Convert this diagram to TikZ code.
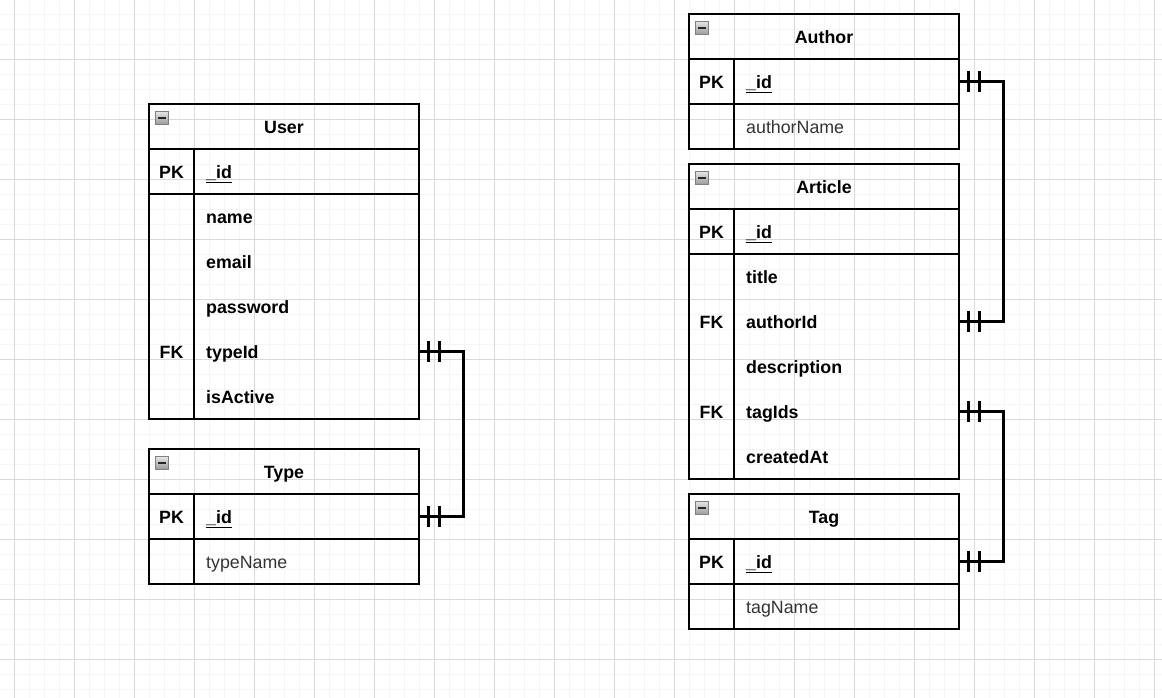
\documentclass[tikz,border=0pt]{standalone}
\usepackage{fontspec}
\setmainfont{Liberation Sans}
\newcommand\erfs{\fontsize{17.8}{20}\selectfont}

% table outline: #1,#2 = top-left corner, #3 = number of body rows
\newcommand\erframe[3]{%
  \draw[frame] (#1,#2) rectangle ++(270,{90+45*#3});
  \draw[frame] (#1,#2+45) -- ++(270,0);
  \draw[frame] (#1,#2+90) -- ++(270,0);
  \draw[frame] (#1+45,#2+45) -- (#1+45,{#2+90+45*#3});
  \draw[icon] (#1+6.5,#2+7.5) rectangle ++(13,13);
  \draw[line width=1.8pt,black!85] (#1+9,#2+14) -- ++(8,0);
}

\tikzset{
  frame/.style={draw=black, line width=1.3pt},
  icon/.style={draw=black!50, line width=0.8pt, top color=black!10, bottom color=black!40},
  txtbox/.style={text height=18pt, text depth=4pt},
  hdr/.style={font=\erfs\bfseries, inner sep=0pt, anchor=center, txtbox},
  keytxt/.style={font=\erfs\bfseries, inner sep=0pt, anchor=center, txtbox},
  field/.style={font=\erfs\bfseries, anchor=west, inner xsep=12pt, inner ysep=0pt,
    text width=201pt, minimum height=45pt, align=left, txtbox},
  plainfield/.style={field, font=\erfs, text=black!80},
  rel/.style={draw=black, line width=2.6pt},
  tick/.style={draw=black, line width=2.4pt},
  minorgrid/.style={draw=black!4, line width=0.9pt},
  majorgrid/.style={draw=black!15, line width=0.9pt},
}

\begin{document}
\begin{tikzpicture}[x=1pt,y=-1pt]
\useasboundingbox (0,0) rectangle (1162,698);

% background grid
\foreach \gx in {14,29,...,1162} \draw[minorgrid] (\gx,0) -- (\gx,698);
\foreach \gy in {14,29,...,698} \draw[minorgrid] (0,\gy) -- (1162,\gy);
\foreach \gx in {14,74,...,1162} \draw[majorgrid] (\gx,0) -- (\gx,698);
\foreach \gy in {59,119,...,698} \draw[majorgrid] (0,\gy) -- (1162,\gy);

% ---------- User ----------
\erframe{149}{104}{5}
\node[hdr] (user) at (284,126.5) {User};
\node[keytxt] (user-pk) at (171.5,171.5) {PK};
\node[field] (user-id) at (194,171.5) {\underline{\_id}};
\node[field] (user-name) at (194,216.5) {name};
\node[field] (user-email) at (194,261.5) {email};
\node[field] (user-password) at (194,306.5) {password};
\node[keytxt] (user-fk) at (171.5,351.5) {FK};
\node[field] (user-typeid) at (194,351.5) {typeId};
\node[field] (user-isactive) at (194,396.5) {isActive};

% ---------- Type ----------
\erframe{149}{449}{1}
\node[hdr] (type) at (284,471.5) {Type};
\node[keytxt] (type-pk) at (171.5,516.5) {PK};
\node[field] (type-id) at (194,516.5) {\underline{\_id}};
\node[plainfield] (type-name) at (194,561.5) {typeName};

% ---------- Author ----------
\erframe{689}{14}{1}
\node[hdr] (author) at (824,36.5) {Author};
\node[keytxt] (author-pk) at (711.5,81.5) {PK};
\node[field] (author-id) at (734,81.5) {\underline{\_id}};
\node[plainfield] (author-name) at (734,126.5) {authorName};

% ---------- Article ----------
\erframe{689}{164}{5}
\node[hdr] (article) at (824,186.5) {Article};
\node[keytxt] (article-pk) at (711.5,231.5) {PK};
\node[field] (article-id) at (734,231.5) {\underline{\_id}};
\node[field] (article-title) at (734,276.5) {title};
\node[keytxt] (article-fk1) at (711.5,321.5) {FK};
\node[field] (article-authorid) at (734,321.5) {authorId};
\node[field] (article-desc) at (734,366.5) {description};
\node[keytxt] (article-fk2) at (711.5,411.5) {FK};
\node[field] (article-tagids) at (734,411.5) {tagIds};
\node[field] (article-created) at (734,456.5) {createdAt};

% ---------- Tag ----------
\erframe{689}{494}{1}
\node[hdr] (tag) at (824,516.5) {Tag};
\node[keytxt] (tag-pk) at (711.5,561.5) {PK};
\node[field] (tag-id) at (734,561.5) {\underline{\_id}};
\node[plainfield] (tag-name) at (734,606.5) {tagName};

% ---------- relations (one-to-one markers) ----------
\draw[rel] (user-typeid.east) -- ++(44,0) |- (type-id.east);
\draw[rel] (author-id.east) -- ++(44,0) |- (article-authorid.east);
\draw[rel] (article-tagids.east) -- ++(44,0) |- (tag-id.east);

\foreach \n in {user-typeid,type-id,author-id,article-authorid,article-tagids,tag-id}{
  \draw[tick] ([xshift=9pt,yshift=-10.5pt]\n.east) -- ++(0,-21);
  \draw[tick] ([xshift=20pt,yshift=-10.5pt]\n.east) -- ++(0,-21);
}
\end{tikzpicture}
\end{document}
